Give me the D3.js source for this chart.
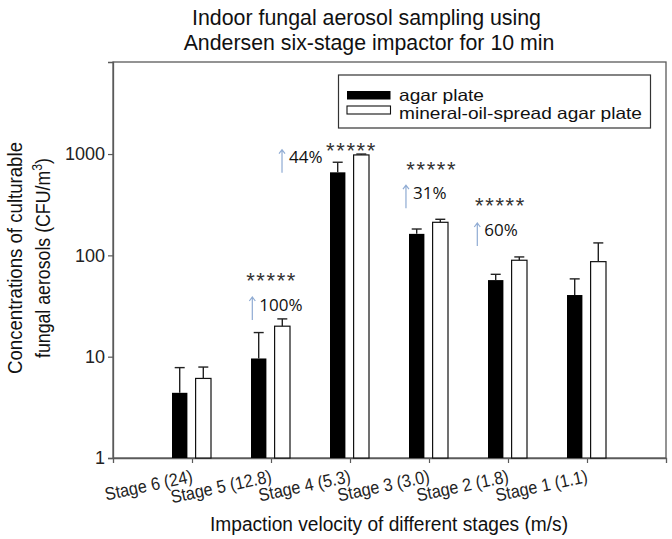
<!DOCTYPE html>
<html><head><meta charset="utf-8">
<script src="https://cdn.jsdelivr.net/npm/d3@7"></script>
<style>
html,body{margin:0;padding:0;background:#fff;}
svg{display:block;font-family:"Liberation Sans",Arial,sans-serif;}
</style></head>
<body>
<svg id="chart" width="672" height="539"></svg>
<script>
// ---- data ----
const stages = ["Stage 6 (24)", "Stage 5 (12.8)", "Stage 4 (5.3)", "Stage 3 (3.0)", "Stage 2 (1.8)", "Stage 1 (1.1)"];
const agarMean = [4.4, 9.6, 660, 163, 57, 40.6];
const agarSD   = [3.4, 7.7, 170, 19, 8, 18];
const oilMean  = [6.1, 20, 980, 212, 89.5, 86.7];
const oilSD    = [1.8, 3.6, 20, 15, 7, 46];
const seriesNames = ["agar plate", "mineral-oil-spread agar plate"];
const yTicks = [1, 10, 100, 1000];
// significance annotations: stage index, percent label
const annStage = [1, 2, 3, 4];
const annPct = ["100%", "44%", "31%", "60%"];
const annStars = ["*****", "*****", "*****", "*****"];
// annotation anchors in data space (x in stage units, y in CFU/m3)
const annStarX = [1.997, 3.009, 4.025, 4.895];
const annStarY = [63, 1203, 780, 347];
const annPctX = [1.852, 2.228, 3.797, 4.70];
const annPctY = [33.1, 942, 420, 178];

// ---- layout ----
const svg = d3.select("#chart");
const L = 113, R = 666, T = 62, B = 458;
const x = d3.scaleLinear().domain([0, 7]).range([L, R]);
const y = d3.scaleLog().domain([1, 8100]).range([B, T]);

// frame
svg.append("rect").attr("x", L).attr("y", T).attr("width", R - L).attr("height", B - T)
  .attr("fill", "none").attr("stroke", "#5a5a5a").attr("stroke-width", 1.3);

// y axis
const yAxis = svg.append("g").attr("transform", `translate(${L},0)`)
  .call(d3.axisLeft(y).tickValues(yTicks).tickFormat(d3.format("d")).tickSize(5).tickPadding(3));
yAxis.select(".domain").attr("stroke", "#5a5a5a").attr("stroke-width", 1.3);
yAxis.selectAll(".tick line").attr("stroke", "#5a5a5a").attr("stroke-width", 1.2);
yAxis.selectAll(".tick text").attr("font-size", 18).attr("fill", "#222")
  .attr("font-family", "Liberation Sans, Arial, sans-serif");

// x axis
const xAxis = svg.append("g").attr("transform", `translate(0,${B})`)
  .call(d3.axisBottom(x).tickValues(d3.range(1, 7)).tickFormat(d => stages[d - 1]).tickSize(5));
xAxis.select(".domain").attr("stroke", "#5a5a5a").attr("stroke-width", 1.3);
xAxis.selectAll(".tick line").attr("stroke", "#5a5a5a").attr("stroke-width", 1.2);
xAxis.selectAll(".tick text").attr("font-size", 18).attr("fill", "#222")
  .attr("font-family", "Liberation Sans, Arial, sans-serif")
  .attr("text-anchor", "end").attr("dy", null).attr("y", 0)
  .attr("transform", "translate(1,24) rotate(-12) scale(0.9,1)");

// bars
const bw = 15.4;
const g = svg.append("g");
stages.forEach((s, i) => {
  const cx = x(i + 1);
  g.append("rect").attr("x", cx - 20).attr("y", y(agarMean[i])).attr("width", bw)
    .attr("height", B - y(agarMean[i])).attr("fill", "#000");
  g.append("rect").attr("x", cx + 3.6).attr("y", y(oilMean[i])).attr("width", bw)
    .attr("height", B - y(oilMean[i])).attr("fill", "#fff").attr("stroke", "#111").attr("stroke-width", 1.2);
  [[cx - 20 + bw / 2, agarMean[i], agarSD[i]], [cx + 3.6 + bw / 2, oilMean[i], oilSD[i]]].forEach(([ex, m, sd]) => {
    const y0 = y(m), y1 = y(m + sd);
    g.append("line").attr("x1", ex).attr("x2", ex).attr("y1", y0).attr("y2", y1)
      .attr("stroke", "#222").attr("stroke-width", 1.4);
    g.append("line").attr("x1", ex - 5).attr("x2", ex + 5).attr("y1", y1).attr("y2", y1)
      .attr("stroke", "#222").attr("stroke-width", 1.4);
  });
});

// annotations
const ag = svg.append("g");
annStage.forEach((st, k) => {
  ag.append("text").attr("x", x(annStarX[k]) + 0.8).attr("y", y(annStarY[k]) + 12.5)
    .attr("text-anchor", "middle").attr("font-size", 22).attr("fill", "#333")
    .attr("letter-spacing", 1.6).text(annStars[k]);
  const tx = x(annPctX[k]), ty = y(annPctY[k]);
  ag.append("text").attr("x", tx).attr("y", ty).attr("dominant-baseline", "central")
    .attr("font-family", "Open Sans, sans-serif").attr("font-size", 17).attr("fill", "#111")
    .text(annPct[k]);
  const axp = tx - 7;
  ag.append("path")
    .attr("d", `M${axp},${ty + 16} L${axp},${ty - 7} M${axp - 3},${ty - 3} L${axp},${ty - 7} L${axp + 3},${ty - 3}`)
    .attr("fill", "none").attr("stroke", "#8fabd3").attr("stroke-width", 1.2);
});

// legend
const lg = svg.append("g");
lg.append("rect").attr("x", 338.5).attr("y", 75).attr("width", 312).attr("height", 53)
  .attr("fill", "#fff").attr("stroke", "#333").attr("stroke-width", 1.2);
lg.append("rect").attr("x", 347).attr("y", 91).attr("width", 43.5).attr("height", 8.5).attr("fill", "#000");
lg.append("rect").attr("x", 347).attr("y", 106).attr("width", 43.5).attr("height", 8)
  .attr("fill", "#fff").attr("stroke", "#111").attr("stroke-width", 1.1);
lg.append("text").attr("x", 399).attr("y", 100.5).attr("font-size", 16.5).attr("fill", "#111")
  .attr("textLength", 85).attr("lengthAdjust", "spacingAndGlyphs").text(seriesNames[0]);
lg.append("text").attr("x", 399).attr("y", 118.5).attr("font-size", 16.5).attr("fill", "#111")
  .attr("textLength", 243).attr("lengthAdjust", "spacingAndGlyphs").text(seriesNames[1]);

// title
svg.append("text").attr("x", 366.5).attr("y", 25).attr("text-anchor", "middle")
  .attr("font-size", 21.5).attr("fill", "#111").attr("textLength", 349).attr("lengthAdjust", "spacingAndGlyphs")
  .text("Indoor fungal aerosol sampling using");
svg.append("text").attr("x", 369).attr("y", 49.5).attr("text-anchor", "middle")
  .attr("font-size", 21.5).attr("fill", "#111").attr("textLength", 370.7).attr("lengthAdjust", "spacingAndGlyphs")
  .text("Andersen six-stage impactor for 10 min");

// x title
svg.append("text").attr("x", 389).attr("y", 531).attr("text-anchor", "middle")
  .attr("font-size", 19.5).attr("fill", "#111").attr("textLength", 358).attr("lengthAdjust", "spacingAndGlyphs")
  .text("Impaction velocity of different stages (m/s)");

// y title (two lines, rotated)
const yt = svg.append("g").attr("transform", "translate(0,258) rotate(-90)");
yt.append("text").attr("x", 0).attr("y", 22).attr("text-anchor", "middle")
  .attr("font-size", 20).attr("fill", "#111").attr("textLength", 232).attr("lengthAdjust", "spacingAndGlyphs")
  .text("Concentrations of culturable");
const t2 = yt.append("text").attr("x", 0).attr("y", 50).attr("text-anchor", "middle")
  .attr("font-size", 20).attr("fill", "#111").attr("textLength", 200).attr("lengthAdjust", "spacingAndGlyphs");
t2.append("tspan").text("fungal aerosols (CFU/m");
t2.append("tspan").attr("dy", -8).attr("font-size", 14).text("3");
t2.append("tspan").attr("dy", 8).text(")");
</script>
</body></html>
